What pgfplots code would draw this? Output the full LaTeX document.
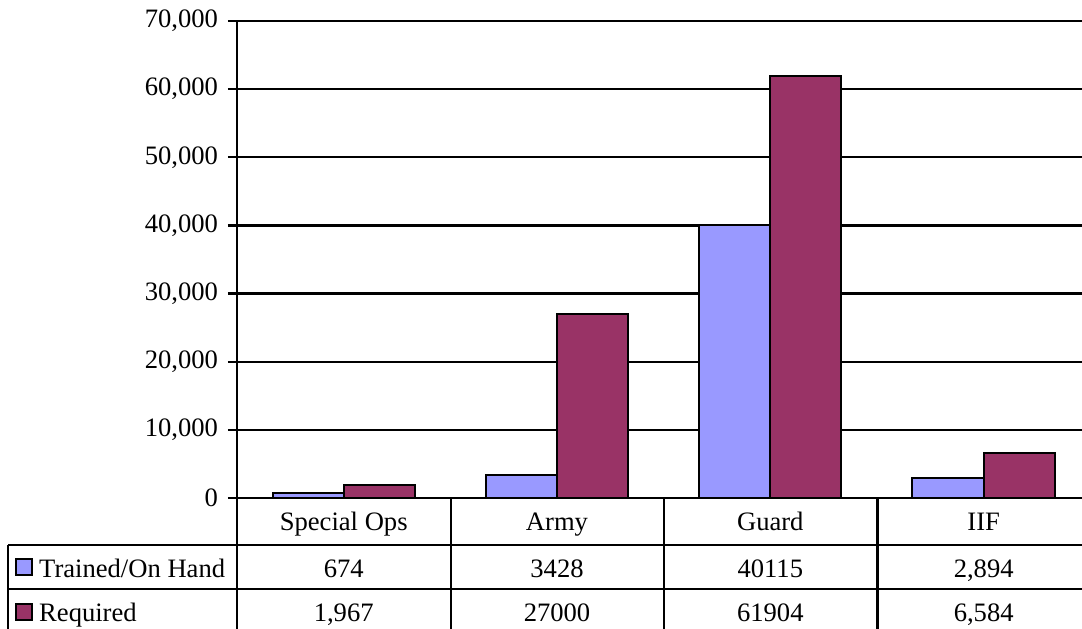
\documentclass[border=0pt]{standalone}
\usepackage{pgfplots}
\pgfplotsset{compat=1.18}
\usepackage{fontspec}
\setmainfont{Liberation Serif}
\definecolor{trained}{HTML}{9999FF}
\definecolor{required}{HTML}{993366}

\begin{document}
\begin{tikzpicture}[font=\fontsize{13.3}{16}\selectfont]
\begin{axis}[
  at={(118.5pt,-249pt)}, anchor=south west,
  scale only axis, width=422.5pt, height=238.5pt,
  xmin=-0.5, xmax=3.4614, ymin=0, ymax=70000,
  axis lines*=left,
  axis line style={line width=1.2pt, black},
  xtick=\empty,
  ytick={0,10000,...,70000},
  ymajorgrids,
  grid style={black, line width=1.2pt},
  major tick length=4.5pt,
  tick align=outside,
  tick style={black, line width=1.2pt},
  scaled y ticks=false,
  /pgf/number format/.cd, 1000 sep={,}, assume math mode=true,
  /pgfplots/.cd,
  yticklabel style={font=\fontsize{13.3}{16}\selectfont, xshift=-1.5pt},
]
\addplot[ybar, bar width=0.3333, bar shift=-0.16667, fill=trained, draw=black, line width=1pt]
  coordinates {(0,674) (1,3428) (2,40115) (3,2894)};
\addplot[ybar, bar width=0.3333, bar shift=0.16667, fill=required, draw=black, line width=1pt]
  coordinates {(0,1967) (1,27000) (2,61904) (3,6584)};
\end{axis}

% data table under the plot (pixel-based coordinates)
\begin{scope}[x=0.5pt, y=-0.5pt, line width=1.2pt]
  \draw (237,498) -- (237,640);
  \foreach \x in {450.7,664,877.3} \draw (\x,498) -- (\x,640);
  \draw (8,545) -- (1090,545);
  \draw (8,589) -- (1090,589);
  \draw (8,545) -- (8,640);
  % legend keys
  \draw[fill=trained, line width=1pt] (16,559) rectangle (32,575);
  \draw[fill=required, line width=1pt] (16,604) rectangle (32,620);
  \node[anchor=base west, inner sep=0pt] at (38,577) {Trained/On Hand};
  \node[anchor=base west, inner sep=0pt] at (38,621) {Required};
  % category names
  \node[anchor=base, inner sep=0pt] at (343.7,530) {Special Ops};
  \node[anchor=base, inner sep=0pt] at (557,530) {Army};
  \node[anchor=base, inner sep=0pt] at (770.3,530) {Guard};
  \node[anchor=base, inner sep=0pt] at (983.7,530) {IIF};
  % values
  \node[anchor=base, inner sep=0pt] at (343.7,577) {674};
  \node[anchor=base, inner sep=0pt] at (557,577) {3428};
  \node[anchor=base, inner sep=0pt] at (770.3,577) {40115};
  \node[anchor=base, inner sep=0pt] at (983.7,577) {2,894};
  \node[anchor=base, inner sep=0pt] at (343.7,621) {1,967};
  \node[anchor=base, inner sep=0pt] at (557,621) {27000};
  \node[anchor=base, inner sep=0pt] at (770.3,621) {61904};
  \node[anchor=base, inner sep=0pt] at (983.7,621) {6,584};
\end{scope}
\pgfresetboundingbox
\path[x=0.5pt, y=-0.5pt] (0,0) rectangle (1082,628);
\end{tikzpicture}
\end{document}
